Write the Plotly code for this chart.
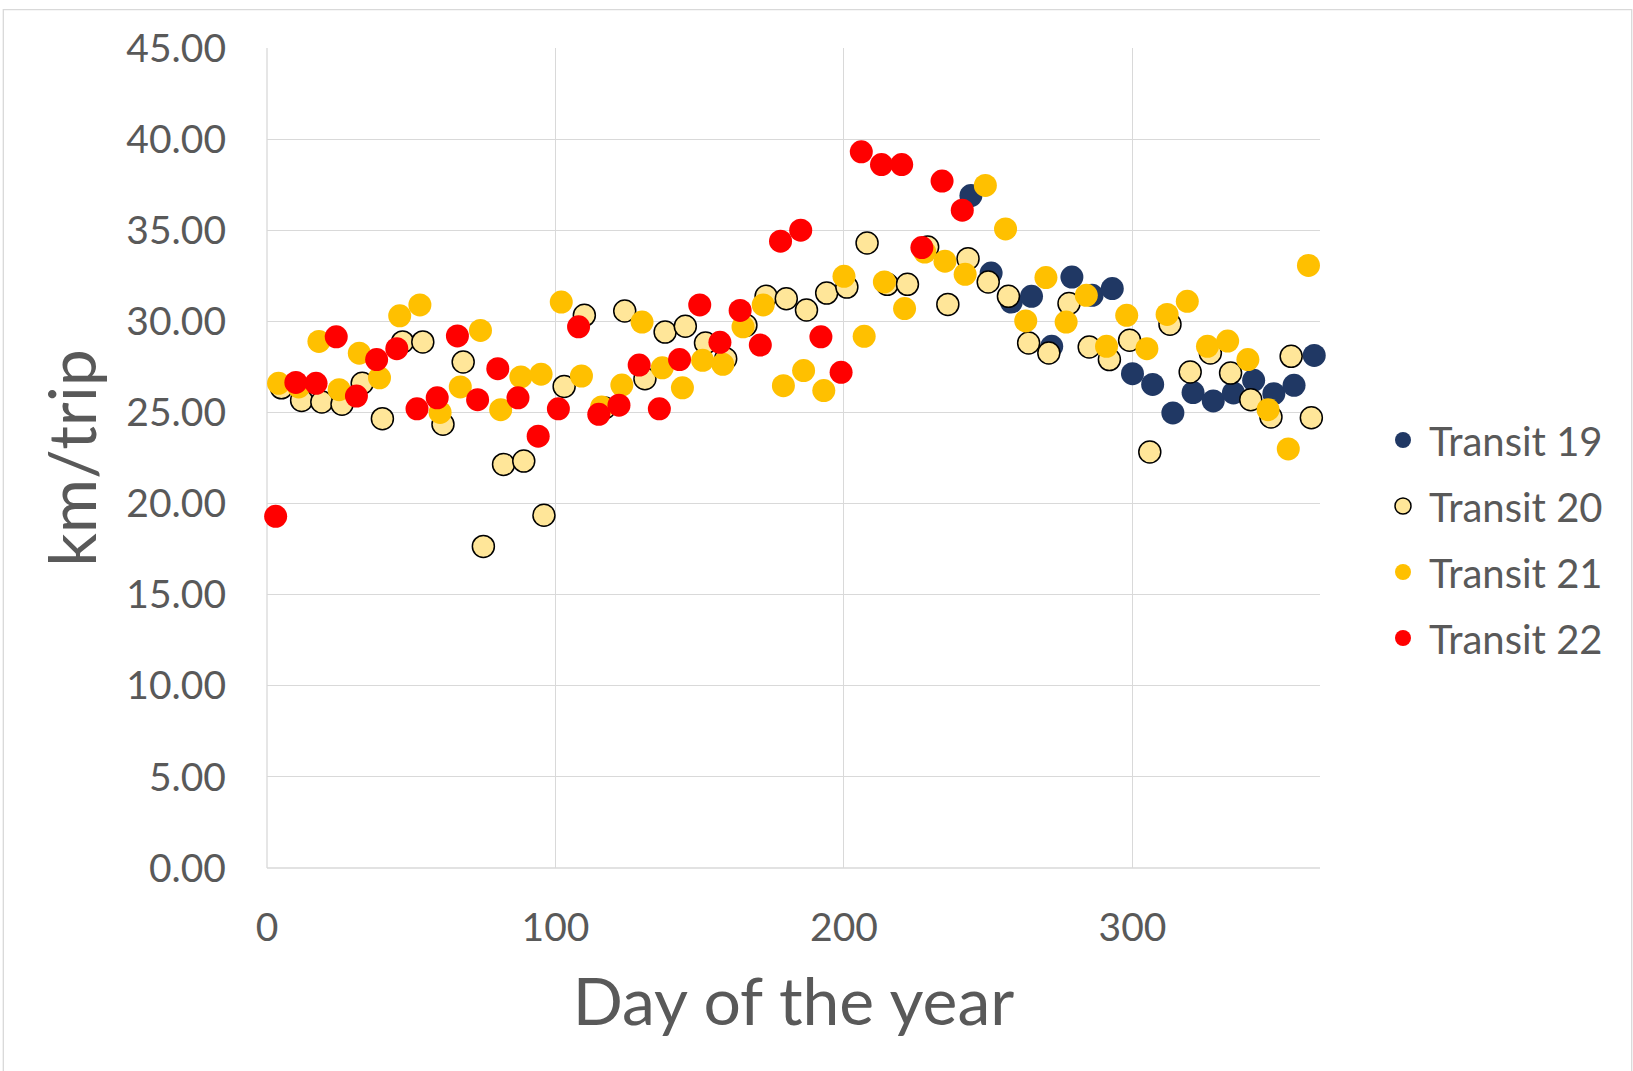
import plotly.graph_objects as go

# ---- data ----
t19_days = [244, 251, 258, 265, 272, 279, 286, 293, 300, 307, 314, 321, 328, 335, 342, 349, 356, 363]
t19_vals = [36.9, 32.65, 31.06, 31.37, 28.63, 32.43, 31.43, 31.8, 27.13, 26.54, 24.97, 26.09, 25.63,
            26.07, 26.76, 26.03, 26.49, 28.13]

t20_days = [5, 12, 19, 26, 33, 40, 47, 54, 61, 68, 75, 82, 89, 96, 103, 110, 117, 124, 131, 138,
            145, 152, 159, 166, 173, 180, 187, 194, 201, 208, 215, 222, 229, 236, 243, 250, 257,
            264, 271, 278, 285, 292, 299, 306, 313, 320, 327, 334, 341, 348, 355, 362]
t20_vals = [26.35, 25.66, 25.57, 25.45, 26.6, 24.66, 28.87, 28.87, 24.35, 27.77, 17.65, 22.15, 22.33,
            19.36, 26.43, 30.33, 25.25, 30.57, 26.85, 29.41, 29.73, 28.81, 27.95, 29.78, 31.37, 31.24,
            30.62, 31.55, 31.88, 34.3, 32.03, 32.03, 34.08, 30.93, 33.44, 32.16, 31.37, 28.81, 28.26,
            30.98, 28.59, 27.9, 28.96, 22.83, 29.84, 27.22, 28.26, 27.16, 25.7, 24.75, 28.08, 24.71]

t21_days = [4, 11, 18, 25, 32, 39, 46, 53, 60, 67, 74, 81, 88, 95, 102, 109, 116, 123, 130, 137,
            144, 151, 158, 165, 172, 179, 186, 193, 200, 207, 214, 221, 228, 235, 242, 249, 256,
            263, 270, 277, 284, 291, 298, 305, 312, 319, 326, 333, 340, 347, 354, 361]
t21_vals = [26.6, 26.4, 28.9, 26.25, 28.25, 26.9, 30.3, 30.9, 25.0, 26.4, 29.5, 25.15, 26.95, 27.1,
            31.06, 27.0, 25.3, 26.5, 29.96, 27.45, 26.35, 27.86, 27.64, 29.7, 30.9, 26.47, 27.3, 26.2,
            32.47, 29.18, 32.16, 30.7, 33.8, 33.3, 32.58, 37.46, 35.07, 30.02, 32.4, 29.96, 31.43,
            28.63, 30.33, 28.5, 30.38, 31.1, 28.63, 28.92, 27.9, 25.15, 23.0, 33.07]

t22_days = [3, 10, 17, 24, 31, 38, 45, 52, 59, 66, 73, 80, 87, 94, 101, 108, 115, 122, 129, 136,
            143, 150, 157, 164, 171, 178, 185, 192, 199, 206, 213, 220, 227, 234, 241]
t22_vals = [19.3, 26.65, 26.6, 29.15, 25.9, 27.9, 28.5, 25.2, 25.8, 29.2, 25.7, 27.4, 25.8, 23.7,
            25.2, 29.7, 24.9, 25.4, 27.6, 25.2, 27.9, 30.9, 28.85, 30.6, 28.7, 34.4, 35.0, 29.15, 27.2,
            39.3, 38.6, 38.6, 34.05, 37.7, 36.1]

series_names = ["Transit 19", "Transit 20", "Transit 21", "Transit 22"]
x_tick_vals = [0, 100, 200, 300]
x_title = "Day of the year"
y_title = "km/trip"

# ---- styling ----
FONT = "Lato"
TXT = "#595959"
GRID = "#D9D9D9"

fig = go.Figure()
styles = [
    dict(color="#203864", size=23, line=dict(width=0)),
    dict(color="#FFE699", size=22, line=dict(width=1.5, color="#000000")),
    dict(color="#FFC000", size=23, line=dict(width=0)),
    dict(color="#FF0000", size=23, line=dict(width=0)),
]
data = [(t19_days, t19_vals), (t20_days, t20_vals), (t21_days, t21_vals), (t22_days, t22_vals)]
for name, (xs, ys), st in zip(series_names, data, styles):
    fig.add_trace(go.Scatter(x=xs, y=ys, mode="markers", name=name, marker=st,
                             legendgroup=name, cliponaxis=False))

L, R, T, B = 267, 313, 48, 203
W, H = 1633, 1071
pw, ph = W - L - R, H - T - B

def px_x(p):
    return (p - L) / pw

def px_y(p):
    return (H - B - p) / ph

fig.update_layout(
    width=W, height=H,
    margin=dict(l=L, r=R, t=T, b=B, pad=0),
    paper_bgcolor="white", plot_bgcolor="white",
    font=dict(family=FONT, color=TXT, size=39),
    showlegend=True,
    legend=dict(
        x=px_x(1377), xanchor="left",
        y=px_y(539), yanchor="middle",
        font=dict(family=FONT, size=40, color=TXT),
        itemwidth=42, traceorder="grouped", tracegroupgap=11,
        bgcolor="rgba(0,0,0,0)",
    ),
    xaxis=dict(
        range=[0, 365], tickvals=x_tick_vals, showgrid=True, gridcolor=GRID, gridwidth=1.3,
        zeroline=False, showline=False, ticks="", ticklabelstandoff=33,
        tickfont=dict(family=FONT, size=39, color=TXT),
        title=dict(text=x_title, font=dict(family=FONT, size=66, color=TXT), standoff=30),
    ),
    yaxis=dict(
        range=[0, 45], dtick=5, tickformat=".2f", showgrid=True, gridcolor=GRID, gridwidth=1.3,
        zeroline=False, showline=False, ticks="", ticklabelstandoff=40,
        tickfont=dict(family=FONT, size=39, color=TXT),
        title=dict(text=y_title, font=dict(family=FONT, size=66, color=TXT), standoff=8),
    ),
    shapes=[
        dict(type="line", xref="paper", yref="paper", x0=0, x1=0, y0=0, y1=1,
             line=dict(color=GRID, width=1.3), layer="below"),
        dict(type="line", xref="paper", yref="paper", x0=0, x1=1, y0=0, y1=0,
             line=dict(color=GRID, width=1.3), layer="below"),
        dict(type="rect", xref="paper", yref="paper",
             x0=px_x(3.3), x1=px_x(1631.7), y0=px_y(1072), y1=px_y(9.7),
             line=dict(color=GRID, width=1.3), fillcolor="rgba(0,0,0,0)", layer="below"),
    ],
)

fig.write_html("out.html")
